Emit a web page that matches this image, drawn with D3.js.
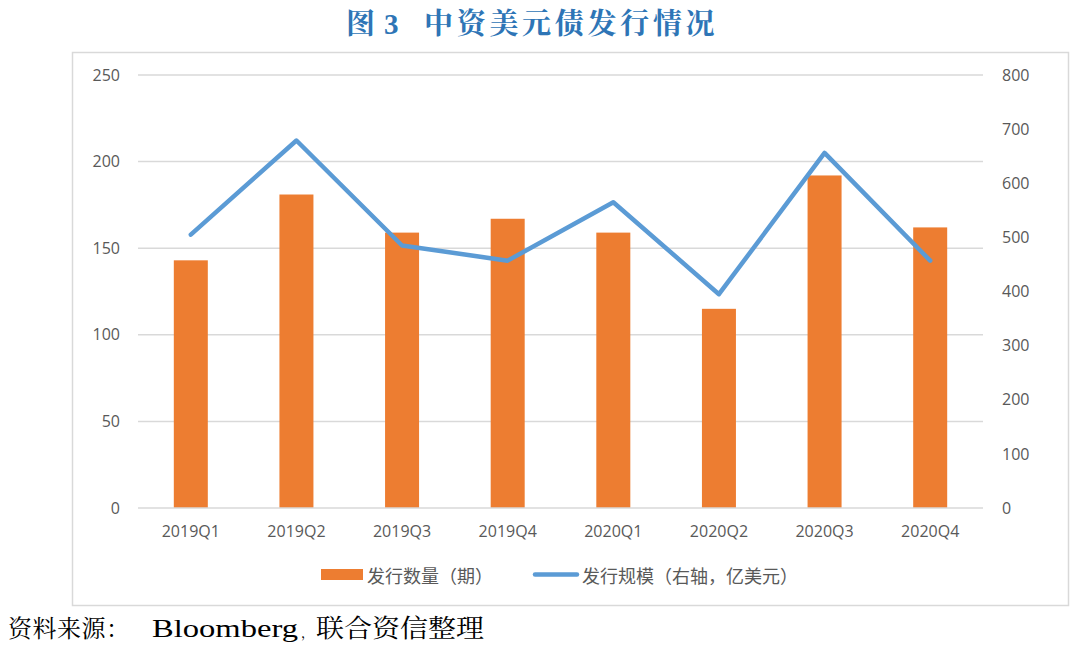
<!DOCTYPE html>
<html>
<head>
<meta charset="utf-8">
<script src="https://cdn.jsdelivr.net/npm/d3@7"></script>
<style>
  html, body { margin: 0; padding: 0; background: #fff; }
  svg { display: block; }
</style>
</head>
<body>
<svg id="chart" width="1080" height="651"></svg>
<script>
const categories = ["2019Q1","2019Q2","2019Q3","2019Q4","2020Q1","2020Q2","2020Q3","2020Q4"];
const issueCount = [143, 181, 159, 167, 159, 115, 192, 162];
const issueAmount = [505, 679, 485, 457, 565, 395, 656, 457];
const leftTicks = [0, 50, 100, 150, 200, 250];
const rightTicks = [0, 100, 200, 300, 400, 500, 600, 700, 800];
const titleParts = ["图", "3", "中资美元债发行情况"];
const sourceParts = ["资料来源：", "Bloomberg", "，", "联合资信整理"];
const legendBar = "发行数量（期）";
const legendLine = "发行规模（右轴，亿美元）";

const svg = d3.select("#chart");
const plot = {left: 138, right: 983, top: 75, bottom: 508};
const gray = "#595959";
const axisFont = "'Open Sans', 'Noto Sans', sans-serif";
const cjkFont = "'Noto Sans CJK SC', sans-serif";
const serifCJK = "'Noto Serif CJK SC', 'Liberation Serif', 'Noto Sans CJK SC', serif";

// frame
svg.append("rect").attr("x", 72.5).attr("y", 52.5).attr("width", 996).attr("height", 553)
  .attr("fill", "none").attr("stroke", "#d9d9d9").attr("stroke-width", 1.5);

// title
const t = svg.append("text").attr("y", 34)
  .attr("font-family", serifCJK).attr("font-weight", 700)
  .attr("font-size", 29).attr("fill", "#2E75B6");
t.append("tspan").attr("x", 346).text(titleParts[0]);
t.append("tspan").attr("x", 384).attr("font-family", "'Liberation Serif', serif").text(titleParts[1]);
t.append("tspan").attr("x", 424).attr("letter-spacing", 3.7).text(titleParts[2]);

const x = d3.scaleBand().domain(categories).range([plot.left, plot.right]);
const yL = d3.scaleLinear().domain([0, 250]).range([plot.bottom, plot.top]);
const yR = d3.scaleLinear().domain([0, 800]).range([plot.bottom, plot.top]);

// gridlines
svg.append("g").selectAll("line").data(leftTicks.filter(d => d > 0)).join("line")
  .attr("x1", plot.left).attr("x2", plot.right)
  .attr("y1", d => yL(d)).attr("y2", d => yL(d))
  .attr("stroke", "#d9d9d9").attr("stroke-width", 1.5);

// left axis
const gl = svg.append("g").attr("transform", `translate(${plot.left},0)`)
  .call(d3.axisLeft(yL).tickValues(leftTicks).tickSize(0).tickPadding(18));
gl.select(".domain").remove();
gl.selectAll("text").attr("font-family", axisFont).attr("font-size", 16).attr("fill", gray);

// right axis
const gr = svg.append("g").attr("transform", `translate(${plot.right},0)`)
  .call(d3.axisRight(yR).tickValues(rightTicks).tickSize(0).tickPadding(19));
gr.select(".domain").remove();
gr.selectAll("text").attr("font-family", axisFont).attr("font-size", 16).attr("fill", gray);

// bars
const bw = 34;
svg.append("g").selectAll("rect").data(categories).join("rect")
  .attr("x", (d) => x(d) + x.bandwidth() / 2 - bw / 2)
  .attr("y", (d, i) => yL(issueCount[i]))
  .attr("width", bw)
  .attr("height", (d, i) => yL(0) - yL(issueCount[i]))
  .attr("fill", "#ED7D31");

// baseline
svg.append("line").attr("x1", plot.left).attr("x2", plot.right)
  .attr("y1", plot.bottom).attr("y2", plot.bottom)
  .attr("stroke", "#d9d9d9").attr("stroke-width", 1.5);

// x axis labels
const gx = svg.append("g").attr("transform", `translate(0,${plot.bottom})`)
  .call(d3.axisBottom(x).tickSize(0).tickPadding(18));
gx.select(".domain").remove();
gx.selectAll("text").attr("font-family", axisFont).attr("font-size", 16).attr("fill", gray);

// line
const line = d3.line()
  .x((d, i) => x(categories[i]) + x.bandwidth() / 2)
  .y(d => yR(d));
svg.append("path").datum(issueAmount).attr("d", line)
  .attr("fill", "none").attr("stroke", "#5B9BD5").attr("stroke-width", 4.5)
  .attr("stroke-linejoin", "round").attr("stroke-linecap", "round");

// legend
const lg = svg.append("g");
lg.append("rect").attr("x", 321).attr("y", 569).attr("width", 42).attr("height", 11).attr("fill", "#ED7D31");
lg.append("text").attr("x", 367).attr("y", 575).attr("dominant-baseline", "central")
  .attr("font-family", cjkFont).attr("font-size", 18).attr("fill", gray).text(legendBar);
lg.append("line").attr("x1", 535).attr("x2", 577).attr("y1", 574.5).attr("y2", 574.5)
  .attr("stroke", "#5B9BD5").attr("stroke-width", 4.5).attr("stroke-linecap", "round");
lg.append("text").attr("x", 582).attr("y", 575).attr("dominant-baseline", "central")
  .attr("font-family", cjkFont).attr("font-size", 18).attr("fill", gray).text(legendLine);

// source
const s = svg.append("text").attr("y", 637)
  .attr("font-family", serifCJK).attr("font-size", 24).attr("fill", "#000");
s.append("tspan").attr("x", 8).attr("letter-spacing", 0.5).text(sourceParts[0]);
s.append("tspan").attr("x", 152).attr("font-family", "'Liberation Serif', serif").attr("font-size", 26)
  .attr("textLength", 146).attr("lengthAdjust", "spacingAndGlyphs").text(sourceParts[1]);
s.append("tspan").attr("x", 301).attr("font-size", 13).text(sourceParts[2]);
s.append("tspan").attr("x", 316).attr("textLength", 168).attr("lengthAdjust", "spacingAndGlyphs")
  .attr("font-size", 25).text(sourceParts[3]);
</script>
</body>
</html>
